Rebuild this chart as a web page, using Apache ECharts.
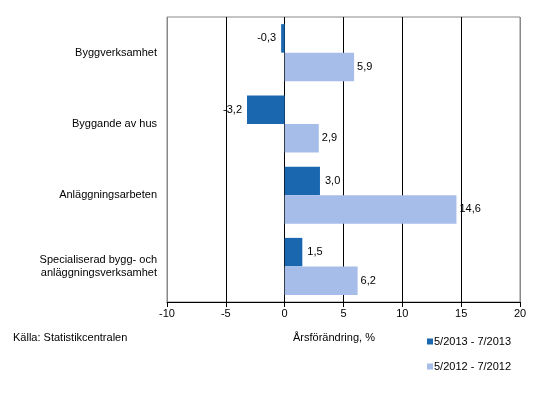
<!DOCTYPE html>
<html><head><meta charset="utf-8">
<script src="https://cdn.jsdelivr.net/npm/echarts@6/dist/echarts.min.js"></script>
<style>html,body{margin:0;padding:0;background:#fff}#c{width:538px;height:402px}</style>
</head><body><div id="c"></div>
<script>
const categories = ['Byggverksamhet', 'Byggande av hus', 'Anläggningsarbeten', 'Specialiserad bygg- och\nanläggningsverksamhet'];
const seriesNames = ['5/2013 - 7/2013', '5/2012 - 7/2012'];
const values2013 = [-0.3, -3.2, 3.0, 1.5];
const values2012 = [5.9, 2.9, 14.6, 6.2];
const colors = ['#1a67b0', '#a7bde9'];
const font = 'Liberation Sans, Arial, sans-serif';

const fmt = p => p.value.toFixed(1).replace('.', ',');
function mkData(vals) {
  return vals.map(v => ({ value: v, label: { position: v < 0 ? 'left' : 'right' } }));
}
const chart = echarts.init(document.getElementById('c'), null, { renderer: 'canvas' });
chart.setOption({
  animation: false,
  textStyle: { fontFamily: font },
  grid: { left: 167, right: 18, top: 17, bottom: 100, show: true, borderColor: '#888', borderWidth: 1, containLabel: false },
  xAxis: {
    type: 'value', min: -10, max: 20, interval: 5,
    axisLine: { show: true, lineStyle: { color: '#000', width: 1 } },
    axisTick: { show: true, length: 5, lineStyle: { color: '#000' } },
    axisLabel: { color: '#000', fontSize: 11, fontFamily: font, margin: 6 },
    splitLine: { show: true, lineStyle: { color: ['#888', '#000', '#000', '#000', '#000', '#000', '#888'], width: 1 } }
  },
  yAxis: {
    type: 'category', data: categories, inverse: true,
    axisLine: { show: false }, axisTick: { show: false },
    axisLabel: { color: '#000', fontSize: 11, fontFamily: font, margin: 10, align: 'right', lineHeight: 13 }
  },
  legend: {
    orient: 'vertical', left: 422, top: 331, itemWidth: 6, itemHeight: 6, itemGap: 14,
    icon: 'rect',
    textStyle: { color: '#000', fontSize: 11, fontFamily: font, padding: [0, 0, 0, -4] },
    data: seriesNames
  },
  graphic: [
    { type: 'text', left: 13, top: 332, style: { text: 'Källa: Statistikcentralen', fill: '#000', font: '11px ' + font } },
    { type: 'text', left: 293, top: 332, style: { text: 'Årsförändring, %', fill: '#000', font: '11px ' + font } }
  ],
  series: [
    { name: seriesNames[0], type: 'bar', data: mkData(values2013), itemStyle: { color: colors[0] },
      barGap: '0%', barCategoryGap: '20%',
      label: { show: true, formatter: fmt, color: '#000', fontSize: 11, fontFamily: font, distance: 5 } },
    { name: seriesNames[1], type: 'bar', data: mkData(values2012), itemStyle: { color: colors[1] },
      barGap: '0%', barCategoryGap: '20%',
      label: { show: true, formatter: fmt, color: '#000', fontSize: 11, fontFamily: font, distance: 3 } }
  ]
});
</script></body></html>
